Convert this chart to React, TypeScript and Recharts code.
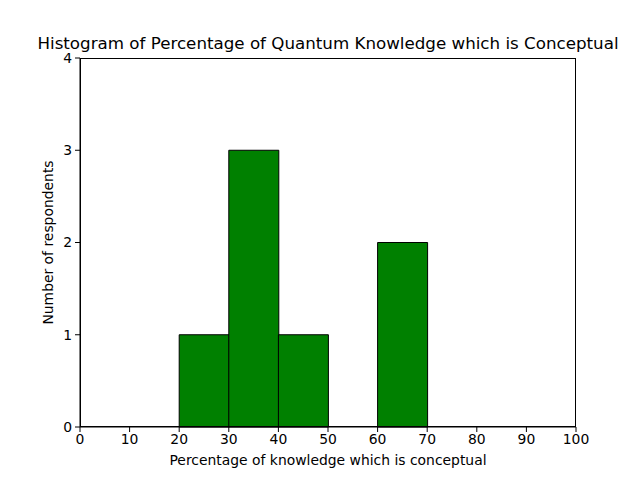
import { BarChart, Bar, XAxis, YAxis, Label } from 'recharts'

const binStarts = [0, 10, 20, 30, 40, 50, 60, 70, 80, 90]
const counts = [0, 0, 1, 3, 1, 0, 2, 0, 0, 0]
const xTicks = [0, 10, 20, 30, 40, 50, 60, 70, 80, 90, 100]
const yTicks = [0, 1, 2, 3, 4]

const font = 'DejaVu Sans, sans-serif'

export default function App() {
  const data = binStarts.map((s, i) => ({
    bin: `${s}-${s + 10}`,
    start: s,
    count: counts[i]
  }))
  const tickStyle = { fill: '#000', fontSize: 13.9, fontFamily: font }

  return (
    <div style={{ position: 'absolute', left: 0, top: 0, width: 640, height: 480, background: '#fff', fontFamily: font }}>
      <div
        style={{
          position: 'absolute',
          left: 16,
          width: 624,
          top: 34,
          textAlign: 'center',
          fontSize: 16.7,
          lineHeight: '18px',
          whiteSpace: 'nowrap',
          color: '#000'
        }}
      >
        Histogram of Percentage of Quantum Knowledge which is Conceptual
      </div>
      <BarChart
        width={640}
        height={480}
        data={data}
        barCategoryGap={0}
        barGap={0}
        margin={{ top: 58, right: 64, bottom: 23, left: 40 }}
      >
        <XAxis xAxisId="cat" dataKey="bin" hide height={0} />
        <XAxis
          xAxisId="num"
          dataKey="start"
          type="number"
          domain={[0, 100]}
          ticks={xTicks}
          allowDataOverflow
          height={30}
          tickSize={5}
          tickMargin={2}
          tick={tickStyle}
          axisLine={{ stroke: '#000' }}
          tickLine={{ stroke: '#000' }}
        >
          <Label
            value="Percentage of knowledge which is conceptual"
            position="insideBottom"
            offset={-8}
            style={{ fill: '#000', fontSize: 13.9, fontFamily: font }}
          />
        </XAxis>
        <YAxis
          yAxisId="left"
          domain={[0, 4]}
          ticks={yTicks}
          width={40}
          tickSize={5}
          tickMargin={3}
          tick={tickStyle}
          axisLine={{ stroke: '#000' }}
          tickLine={{ stroke: '#000' }}
        >
          <Label
            value="Number of respondents"
            angle={-90}
            position="insideLeft"
            offset={8}
            style={{ fill: '#000', fontSize: 13.9, fontFamily: font, textAnchor: 'middle' }}
          />
        </YAxis>
        <Bar
          dataKey="count"
          xAxisId="cat"
          yAxisId="left"
          fill="#008000"
          stroke="#000"
          strokeWidth={1}
          isAnimationActive={false}
        />
      </BarChart>
      <div
        style={{
          position: 'absolute',
          left: 80,
          top: 58,
          width: 496,
          height: 369,
          border: '1px solid #000',
          boxSizing: 'border-box',
          pointerEvents: 'none'
        }}
      />
    </div>
  )
}
